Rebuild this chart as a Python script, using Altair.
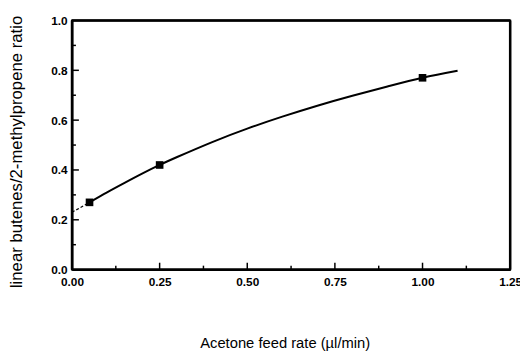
import altair as alt
import pandas as pd

# measured points
feed_rate = [0.05, 0.25, 1.00]
ratio = [0.27, 0.42, 0.77]

# fitted curve
curve_x = [0.05, 0.10, 0.15, 0.20, 0.25, 0.30, 0.40, 0.50, 0.60, 0.70, 0.80, 0.90, 1.00, 1.10]
curve_y = [0.27, 0.31, 0.348, 0.385, 0.42, 0.452, 0.512, 0.566, 0.614, 0.658, 0.698, 0.735, 0.77, 0.798]

# extrapolated (dashed) part
dash_x = [0.0, 0.05]
dash_y = [0.23, 0.27]

x_ticks = [0.0, 0.25, 0.5, 0.75, 1.0, 1.25]
x_minor = [0.125, 0.375, 0.625, 0.875, 1.125]
x_major_inner = [0.25, 0.5, 0.75, 1.0]
y_ticks = [0.0, 0.2, 0.4, 0.6, 0.8, 1.0]
y_minor = [0.1, 0.3, 0.5, 0.7, 0.9]
y_major_inner = [0.2, 0.4, 0.6, 0.8]

# frame edges (data units): x, x2, y, y2
frame_x = [0.0, 0.0, 0.0, 1.25]
frame_x2 = [1.25, 1.25, 0.0, 1.25]
frame_y = [0.0, 1.0, 0.0, 0.0]
frame_y2 = [0.0, 1.0, 1.0, 1.0]

W, H = 445, 253
FONT = "Liberation Sans"

pts = pd.DataFrame({"x": feed_rate, "y": ratio})
curve = pd.DataFrame({"x": curve_x, "y": curve_y})
dash = pd.DataFrame({"x": dash_x, "y": dash_y})
frame_df = pd.DataFrame({"fx": frame_x, "fx2": frame_x2, "fy": frame_y, "fy2": frame_y2})

xscale = alt.Scale(domain=[0, 1.25], nice=False, zero=False)
yscale = alt.Scale(domain=[0, 1.0], nice=False, zero=False)

xaxis = alt.Axis(
    values=x_ticks, format=".2f", tickSize=0, grid=False,
    domain=True, domainColor="black", domainWidth=2,
    labelFont=FONT, labelFontSize=12, labelFontWeight="bold", labelColor="black",
    labelPadding=7, labelFlush=False, labelOverlap=False,
    title="Acetone feed rate (µl/min)", titleFont=FONT, titleFontSize=15,
    titleFontWeight="normal", titleColor="black",
    titleX=216, titleY=74, titleBaseline="middle", titleAlign="center", titleAnchor="start",
)
yaxis = alt.Axis(
    values=y_ticks, format=".1f", tickSize=0, grid=False,
    domain=True, domainColor="black", domainWidth=2,
    labelFont=FONT, labelFontSize=12, labelFontWeight="bold", labelColor="black",
    labelPadding=5, labelFlush=False, labelOverlap=False,
    title="linear butenes/2-methylpropene ratio", titleFont=FONT, titleFontSize=17,
    titleFontWeight="normal", titleColor="black",
    titleX=-56, titleY=133, titleAngle=-90, titleBaseline="middle", titleAlign="center",
    titleAnchor="start",
)

frame = alt.Chart(frame_df).mark_rule(color="#000000", strokeWidth=2.5).encode(
    x=alt.X("fx:Q", scale=xscale), x2="fx2:Q",
    y=alt.Y("fy:Q", scale=yscale), y2="fy2:Q",
)

line = alt.Chart(curve).mark_line(color="black", strokeWidth=2, interpolate="natural").encode(
    x=alt.X("x:Q", scale=xscale, axis=xaxis),
    y=alt.Y("y:Q", scale=yscale, axis=yaxis),
)
dashed = alt.Chart(dash).mark_line(color="black", strokeWidth=1.2, strokeDash=[3, 2]).encode(
    x=alt.X("x:Q", scale=xscale), y=alt.Y("y:Q", scale=yscale)
)
points = alt.Chart(pts).mark_square(color="black", size=60, opacity=1).encode(
    x=alt.X("x:Q", scale=xscale), y=alt.Y("y:Q", scale=yscale)
)

def vrule(vals, y_from, y_to, width=1.5):
    return alt.Chart(pd.DataFrame({"t": vals})).mark_rule(color="black", strokeWidth=width).encode(
        x=alt.X("t:Q", scale=xscale), y=alt.value(y_from), y2=alt.value(y_to)
    )

def hrule(vals, x_from, x_to, width=1.5):
    return alt.Chart(pd.DataFrame({"t": vals})).mark_rule(color="black", strokeWidth=width).encode(
        y=alt.Y("t:Q", scale=yscale), x=alt.value(x_from), x2=alt.value(x_to)
    )

chart = alt.layer(
    frame, line, dashed, points,
    vrule(x_major_inner, H, H - 7), vrule(x_minor, H, H - 4),
    hrule(y_major_inner, 0, 7), hrule(y_minor, 0, 4),
).properties(
    width=W, height=H,
    autosize=alt.AutoSizeParams(type="none"),
    padding={"left": 65, "top": 10, "right": 10, "bottom": 82},
).configure_view(
    stroke="black", strokeWidth=2
)

chart.save("out.html", embed_options={"renderer": "svg", "actions": False})
